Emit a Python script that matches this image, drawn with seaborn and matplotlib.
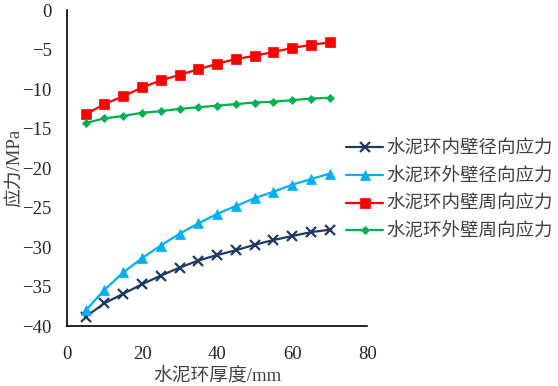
import matplotlib
matplotlib.use("Agg")
import matplotlib.pyplot as plt
import seaborn as sns
import pandas as pd

thickness = [5, 10, 15, 20, 25, 30, 35, 40, 45, 50, 55, 60, 65, 70]
inner_radial = [-38.8, -37.1, -35.9, -34.7, -33.6, -32.6, -31.7, -31.0, -30.4, -29.7, -29.1, -28.6, -28.1, -27.8]
outer_radial = [-38.0, -35.4, -33.2, -31.4, -29.8, -28.3, -27.0, -25.8, -24.8, -23.8, -23.0, -22.1, -21.4, -20.7]
inner_hoop = [-13.2, -11.9, -10.9, -9.8, -8.9, -8.2, -7.5, -6.8, -6.2, -5.8, -5.3, -4.8, -4.4, -4.1]
outer_hoop = [-14.3, -13.7, -13.4, -13.0, -12.8, -12.5, -12.3, -12.1, -11.9, -11.7, -11.6, -11.4, -11.2, -11.1]
labels = ["水泥环内壁径向应力", "水泥环外壁径向应力", "水泥环内壁周向应力", "水泥环外壁周向应力"]
x_ticks = [0, 20, 40, 60, 80]
y_ticks = [-40, -35, -30, -25, -20, -15, -10, -5, 0]

sns.set_style("white")
plt.rcParams['font.family'] = ['Liberation Serif', 'Noto Sans CJK SC']

fig = plt.figure(figsize=(5.58, 3.86), dpi=100)
ax = fig.add_axes([0.12, 0.155, 0.538, 0.819])

series = [inner_radial, outer_radial, inner_hoop, outer_hoop]
colors = ["#1F3864", "#00B0F0", "#FF0000", "#00B050"]
markers = ["x", "^", "s", "D"]
msizes = [7, 6.5, 6.5, 4.5]
for vals, lab, c, m, ms in zip(series, labels, colors, markers, msizes):
    df = pd.DataFrame({"x": thickness, "y": vals})
    sns.lineplot(data=df, x="x", y="y", ax=ax, color=c, marker=m, markersize=ms,
                 markeredgecolor=c, markeredgewidth=1.6 if m == "x" else 0.5,
                 linewidth=1.6, label=lab)

ax.set_xlim(0, 80)
ax.set_ylim(-40, 0)
ax.set_xticks(x_ticks)
ax.set_yticks(y_ticks)
ax.tick_params(direction="in", length=5, width=1.2, labelsize=13.5, colors="black",
               labelcolor="#262626")
ax.tick_params(axis="x", pad=14)
ax.tick_params(axis="y", pad=11)
for s in ["top", "right"]:
    ax.spines[s].set_visible(False)
for s in ["left", "bottom"]:
    ax.spines[s].set_color("black")
    ax.spines[s].set_linewidth(1.2)
ax.set_xlabel("水泥环厚度/mm", fontsize=13.5, labelpad=3, color="#404040")
ax.set_ylabel("应力/MPa", fontsize=13.5, labelpad=-1, color="#404040")

leg = ax.legend(loc="center left", bbox_to_anchor=(0.93, 0.43), frameon=False,
                prop={"family": ["Noto Sans CJK SC"], "size": 13.3},
                borderpad=0, borderaxespad=0,
                handlelength=2.0, handletextpad=0.15, labelspacing=0.53)
for t in leg.get_texts():
    t.set_color("#404040")

fig.savefig("out.png", dpi=100)
